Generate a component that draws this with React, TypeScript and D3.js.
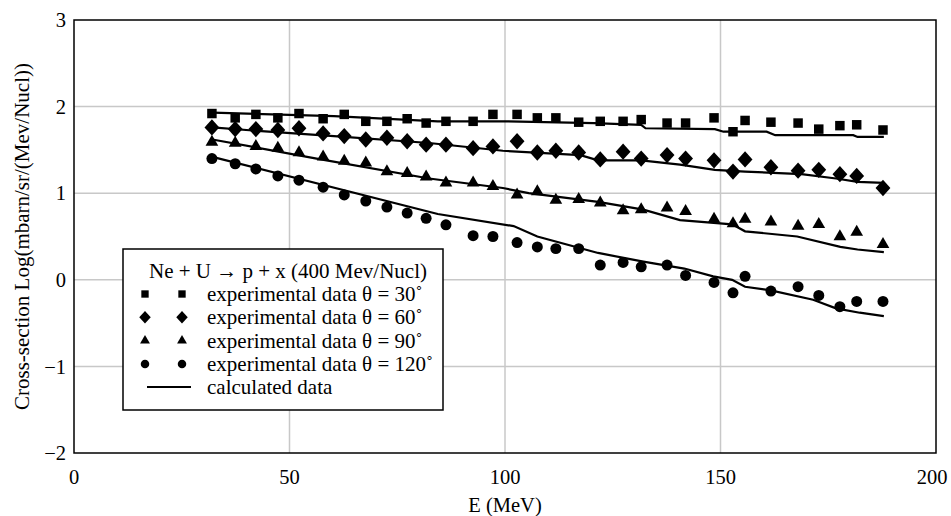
import React from "react";
import {scaleLinear, line, symbol, symbolSquare, symbolTriangle, symbolCircle, SymbolType} from "d3";

// energies (MeV) shared by all measured series
const energies = [32.0, 37.4, 42.2, 47.3, 52.2, 57.8, 62.7, 67.7, 72.6, 77.3, 81.7, 86.3, 92.6, 97.2, 102.8, 107.5,
    111.8, 117.1, 122.1, 127.4, 131.6, 137.6, 141.9, 148.5, 152.9, 155.7, 161.7, 168.0, 172.8, 177.7, 181.6, 187.7];

const exp30 = [1.92, 1.87, 1.91, 1.87, 1.92, 1.86, 1.91, 1.83, 1.83, 1.86, 1.81, 1.83, 1.83, 1.91, 1.91, 1.87,
    1.87, 1.82, 1.83, 1.83, 1.85, 1.81, 1.81, 1.87, 1.71, 1.84, 1.82, 1.81, 1.74, 1.78, 1.79, 1.73];
const exp60 = [1.76, 1.74, 1.74, 1.73, 1.75, 1.69, 1.66, 1.62, 1.64, 1.60, 1.56, 1.56, 1.52, 1.54, 1.60, 1.47,
    1.49, 1.47, 1.39, 1.48, 1.40, 1.44, 1.40, 1.38, 1.25, 1.39, 1.30, 1.26, 1.27, 1.22, 1.20, 1.06];
const exp90 = [1.59, 1.58, 1.54, 1.52, 1.47, 1.42, 1.37, 1.35, 1.25, 1.23, 1.19, 1.12, 1.12, 1.08, 0.98, 1.02,
    0.92, 0.93, 0.89, 0.80, 0.81, 0.83, 0.79, 0.70, 0.65, 0.70, 0.67, 0.62, 0.64, 0.50, 0.55, 0.41];
const exp120 = [1.40, 1.34, 1.28, 1.20, 1.15, 1.07, 0.98, 0.91, 0.84, 0.77, 0.71, 0.635, 0.51, 0.50, 0.43, 0.38,
    0.36, 0.36, 0.17, 0.20, 0.15, 0.17, 0.05, -0.03, -0.15, 0.04, -0.13, -0.08, -0.18, -0.31, -0.25, -0.25];

// calculated curves: [E, value]
const calc30: [number, number][] = [[32.1, 1.93], [60.3, 1.89], [84.4, 1.83], [100.5, 1.83], [120.6, 1.81], [131.6, 1.79],
    [132.6, 1.75], [148.7, 1.74], [150.7, 1.71], [160.7, 1.71], [162.7, 1.67], [180.8, 1.67], [181.8, 1.65], [187.9, 1.65]];
const calc60: [number, number][] = [[32.1, 1.76], [45.2, 1.71], [60.3, 1.66], [82.4, 1.58], [99.5, 1.49], [117.5, 1.44],
    [121.6, 1.38], [131.6, 1.38], [140.6, 1.33], [148.7, 1.27], [155.7, 1.25], [168.8, 1.22], [176.8, 1.17], [181.8, 1.13], [187.9, 1.12]];
const calc90: [number, number][] = [[32.1, 1.62], [56.3, 1.40], [82.4, 1.17], [99.5, 1.06], [105.5, 1.00], [121.6, 0.90],
    [132.1, 0.81], [140.6, 0.69], [152.7, 0.64], [155.7, 0.56], [167.8, 0.50], [177.8, 0.38], [181.8, 0.35], [187.9, 0.32]];
const calc120: [number, number][] = [[32.1, 1.42], [84.4, 0.76], [102, 0.62], [107.5, 0.50], [121.6, 0.31], [132.1, 0.21],
    [141.6, 0.13], [148.3, 0.04], [152.7, 0.0], [155.7, -0.08], [161.4, -0.12], [171.5, -0.23], [176.8, -0.33], [182.3, -0.38], [187.9, -0.42]];

const xTicks = [0, 50, 100, 150, 200];
const yTicks = [3, 2, 1, 0, -1, -2];

const legendTitle = "Ne + U \u2192 p + x (400 Mev/Nucl)";
const legendLabels = [
    "experimental data \u03b8 = 30\u02da",
    "experimental data \u03b8 = 60\u02da",
    "experimental data \u03b8 = 90\u02da",
    "experimental data \u03b8 = 120\u02da",
];

const W = 951, H = 516;
const margin = {left: 74, right: 15, top: 20, bottom: 63};
const FONT = "Liberation Serif, DejaVu Serif, serif";

// square turned by 45 degrees, wider than d3's symbolDiamond
const symbolRhomb: SymbolType = {
    draw(ctx, size) {
        const r = Math.sqrt(size / 2);
        ctx.moveTo(0, -r * 1.1);
        ctx.lineTo(r, 0);
        ctx.lineTo(0, r * 1.1);
        ctx.lineTo(-r, 0);
        ctx.closePath();
    }
};

function App() {
    const x = scaleLinear().domain([0, 200]).range([margin.left, W - margin.right]);
    const y = scaleLinear().domain([-2, 3]).range([H - margin.bottom, margin.top]);

    const series = [
        {vals: exp30, shape: symbolSquare, size: 90},
        {vals: exp60, shape: symbolRhomb, size: 110},
        {vals: exp90, shape: symbolTriangle, size: 70},
        {vals: exp120, shape: symbolCircle, size: 95},
    ];
    const curves = [calc30, calc60, calc90, calc120];
    const lineGen = line<[number, number]>().x(d => x(d[0])).y(d => y(d[1]));

    const lx = 123, ly = 249, lw = 320, lh = 161;

    return (
        <svg width={W} height={H} style={{position: "absolute", left: 0, top: 0, fontFamily: FONT}}>
            <rect width={W} height={H} fill="#fff"/>
            {/* grid */}
            {xTicks.slice(1, -1).map(t => (
                <line key={"gx" + t} x1={x(t)} x2={x(t)} y1={y(3)} y2={y(-2)} stroke="#c8c8c8" strokeWidth={1.5}/>
            ))}
            {yTicks.slice(1, -1).map(t => (
                <line key={"gy" + t} x1={x(0)} x2={x(200)} y1={y(t)} y2={y(t)} stroke="#c8c8c8" strokeWidth={1.5}/>
            ))}
            <rect x={x(0)} y={y(3)} width={x(200) - x(0)} height={y(-2) - y(3)} fill="none" stroke="#000" strokeWidth={1.5}/>

            {/* tick labels */}
            {yTicks.map(t => (
                <text key={"yl" + t} x={x(0) - 8} y={y(t)} dy="0.35em" textAnchor="end" fontSize={20.5}>
                    {t < 0 ? "\u2212" + Math.abs(t) : t}
                </text>
            ))}
            {xTicks.map(t => (
                <text key={"xl" + t} x={t === 200 ? x(t) - 4 : x(t)} y={y(-2) + 24} dy="0.35em" textAnchor="middle" fontSize={20.5}>{t}</text>
            ))}
            <text x={(x(0) + x(200)) / 2} y={505} dy="0.35em" textAnchor="middle" fontSize={20.5}>E (MeV)</text>
            <text transform={`translate(22, ${(y(3) + y(-2)) / 2}) rotate(-90)`} textAnchor="middle" dy="0.35em" fontSize={21}>
                Cross-section Log(mbarn/sr/(Mev/Nucl))
            </text>

            {/* calculated curves */}
            {curves.map((c, i) => (
                <path key={"c" + i} d={lineGen(c) || ""} fill="none" stroke="#000" strokeWidth={2.2}/>
            ))}

            {/* experimental points */}
            {series.map((s, i) => (
                <g key={"s" + i}>
                    {s.vals.map((v, j) => (
                        <path key={j} d={symbol(s.shape, s.size)() || ""}
                              transform={`translate(${x(energies[j])},${y(v)})`} fill="#000"/>
                    ))}
                </g>
            ))}

            {/* legend */}
            <rect x={lx} y={ly} width={lw} height={lh} fill="#fff" stroke="#000" strokeWidth={1.5}/>
            <text x={149} y={278} fontSize={21}>{legendTitle}</text>
            {series.map((s, i) => (
                <g key={"lg" + i}>
                    <path d={symbol(s.shape, s.size * 0.6)() || ""} transform={`translate(145,${294 + i * 23.3})`}/>
                    <path d={symbol(s.shape, s.size * 0.6)() || ""} transform={`translate(182,${294 + i * 23.3})`}/>
                    <text x={207} y={301 + i * 23.3} fontSize={21}>{legendLabels[i]}</text>
                </g>
            ))}
            <line x1={147} x2={191} y1={387} y2={387} stroke="#000" strokeWidth={2.2}/>
            <text x={207} y={394} fontSize={21}>calculated data</text>
        </svg>
    );
}

export default App;
